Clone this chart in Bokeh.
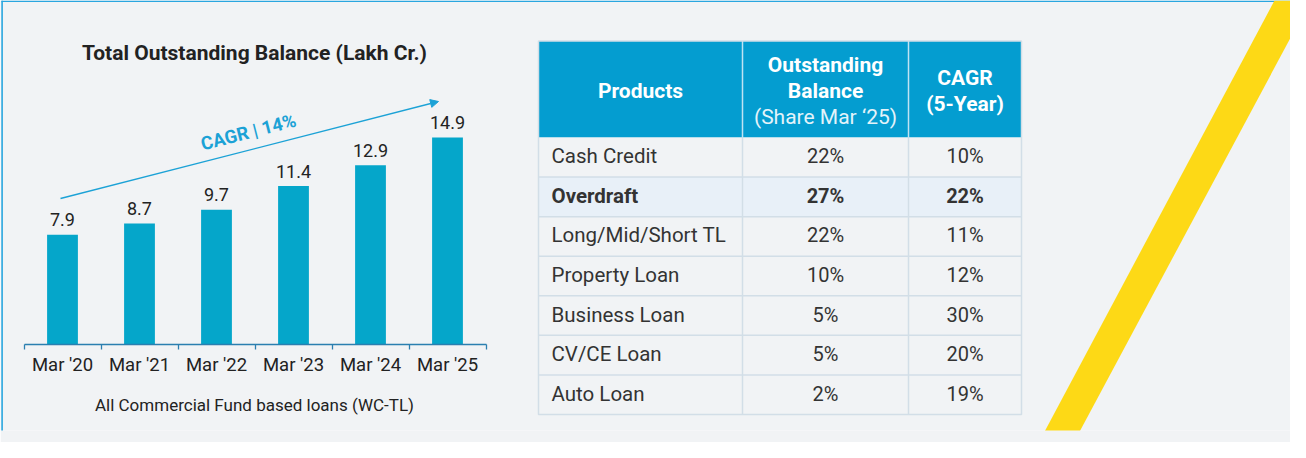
import math
from bokeh.plotting import figure
from bokeh.models import (Range1d, LinearAxis, FixedTicker, ColumnDataSource, LabelSet,
                          Arrow, NormalHead)
from bokeh.core.properties import value
from bokeh.embed import file_html
from bokeh.resources import INLINE

# ---------------- data ----------------
years = ["Mar '20", "Mar '21", "Mar '22", "Mar '23", "Mar '24", "Mar '25"]
balance = [7.9, 8.7, 9.7, 11.4, 12.9, 14.9]
chart_title = "Total Outstanding Balance (Lakh Cr.)"
chart_note = "All Commercial Fund based loans (WC-TL)"
cagr_label = "CAGR | 14%"

products = ["Cash Credit", "Overdraft", "Long/Mid/Short TL", "Property Loan",
            "Business Loan", "CV/CE Loan", "Auto Loan"]
share = ["22%", "27%", "22%", "10%", "5%", "5%", "2%"]
cagr5 = ["10%", "22%", "11%", "12%", "30%", "20%", "19%"]
highlight = "Overdraft"
head_products = ["Products"]
head_balance = ["Outstanding", "Balance", "(Share Mar \u201825)"]
head_cagr = ["CAGR", "(5-Year)"]

# ---------------- style ----------------
BG = "#f1f3f5"
LINE = "#2aa6df"
BAR = "#05a6ca"
HEAD = "#049dd0"
ACCENT = "#1ca2d6"
YELLOW = "#fdd916"
GRID = "#d2dee7"
HL = "#e8f0f8"
TXT = "#222222"
BODY = "#333333"
AXIS = "#2b7fb0"
FONT = value("Roboto")

W, H = 1290, 442
BOTTOM = 12            # small panel holding the x axis
FH = H - BOTTOM        # frame height
BASE = 344             # canvas y of the bar baseline
PXPU = 13.9            # pixels per value unit
CATW = 77.0            # pixels per category
X0, Y0 = 8, 8          # page position of the canvas origin
pad = (31.5 - X0) / CATW

p = figure(width=W, height=H,
           x_range=Range1d(-pad, -pad + W / CATW),
           y_range=Range1d(-(FH - BASE) / PXPU, BASE / PXPU),
           x_axis_location=None, y_axis_location=None,
           toolbar_location=None, output_backend="svg",
           min_border_left=0, min_border_right=0, min_border_top=0, min_border_bottom=BOTTOM)
p.background_fill_color = BG
p.border_fill_color = BG
p.outline_line_color = None
p.grid.visible = False
p.extra_x_ranges = {"px": Range1d(X0, X0 + W)}
p.extra_y_ranges = {"px": Range1d(Y0 + FH, Y0)}
PX = dict(x_range_name="px", y_range_name="px")

# ---------------- bar chart ----------------
n_cat = len(years)
centers = [i + 0.5 for i in range(n_cat)]

axis = LinearAxis(fixed_location=0,
                  ticker=FixedTicker(ticks=list(range(n_cat + 1)), minor_ticks=[]),
                  bounds=(0, n_cat), major_tick_in=0, major_tick_out=5,
                  major_label_text_font_size="0px", major_label_text_color=None,
                  major_label_standoff=0,
                  axis_line_color=AXIS, axis_line_width=1.3,
                  major_tick_line_color=AXIS, major_tick_line_width=1.3,
                  minor_tick_line_color=None)
p.add_layout(axis, "below")

src = ColumnDataSource(dict(x=centers, val=balance, base=[0] * n_cat, cat=years,
                            lab=[f"{v:.1f}" for v in balance]))
p.vbar(x="x", top="val", bottom="base", width=0.4, source=src, fill_color=BAR, line_color=None)
p.add_layout(LabelSet(x="x", y="val", text="lab", source=src, y_offset=15,
                      text_align="center", text_baseline="middle", text_font=FONT,
                      text_font_size="18px", text_color=TXT))
p.add_layout(LabelSet(x="x", y="base", text="cat", source=src, y_offset=-20,
                      text_align="center", text_baseline="middle", text_font=FONT,
                      text_font_size="18.5px", text_color=TXT))

p.text(x=[262], y=[60], text=[chart_title], text_font=FONT, text_font_style="bold",
       text_font_size="21px", text_align="center", text_baseline="middle", text_color=TXT, **PX)
p.text(x=[262], y=[412], text=[chart_note], text_font=FONT, text_font_size="17px",
       text_align="center", text_baseline="middle", text_color=TXT, **PX)

p.add_layout(Arrow(end=NormalHead(size=8, fill_color=ACCENT, line_color=ACCENT),
                   x_start=68, y_start=206, x_end=446, y_end=109,
                   line_color=ACCENT, line_width=1.3, **PX))
ang = math.atan2(206 - 109, 446 - 68)
p.text(x=[256], y=[140], text=[cagr_label], angle=ang, text_font=FONT, text_font_style="bold",
       text_font_size="18.5px", text_align="center", text_baseline="middle",
       text_color=ACCENT, **PX)

# slide frame lines
p.segment(x0=[9], y0=[8.8], x1=[X0 + W], y1=[8.8], line_color=LINE, line_width=1.6, **PX)
p.segment(x0=[9.6], y0=[8], x1=[9.6], y1=[Y0 + H], line_color=LINE, line_width=1.6, **PX)

# ---------------- table ----------------
cols = [546, 750, 916, 1029]
head_top, head_bot, tab_bot = 48.5, 145, 422
n = len(products)
rh = (tab_bot - head_bot) / n
row_top = [head_bot + i * rh for i in range(n)]
row_mid = [t + rh / 2 - 1 for t in row_top]

p.quad(left=[cols[0]], right=[cols[-1]], top=[head_top], bottom=[head_bot],
       fill_color=HEAD, line_color=None, **PX)
p.quad(left=[cols[0]] * n, right=[cols[-1]] * n, top=row_top, bottom=[t + rh for t in row_top],
       fill_color=[HL if pr == highlight else BG for pr in products], line_color=None, **PX)
p.segment(x0=[cols[0]] * (n - 1), x1=[cols[-1]] * (n - 1), y0=row_top[1:], y1=row_top[1:],
          line_color=GRID, line_width=1.5, **PX)
p.segment(x0=cols[1:3], x1=cols[1:3], y0=[head_bot] * 2, y1=[tab_bot] * 2,
          line_color=GRID, line_width=1.5, **PX)
p.segment(x0=cols[1:3], x1=cols[1:3], y0=[head_top] * 2, y1=[head_bot] * 2,
          line_color="#bfe3f3", line_width=1.5, **PX)
p.quad(left=[cols[0]], right=[cols[-1]], top=[head_top], bottom=[tab_bot],
       fill_color=None, line_color=GRID, line_width=1.5, **PX)

cx = [(cols[0] + cols[1]) / 2, (cols[1] + cols[2]) / 2, (cols[2] + cols[3]) / 2]
hmid = (head_top + head_bot) / 2
hdr = ColumnDataSource(dict(
    x=[cx[0]] + [cx[1]] * 3 + [cx[2]] * 2,
    y=[hmid + 2, hmid - 24, hmid + 2, hmid + 28, hmid - 11, hmid + 15],
    t=head_products + head_balance + head_cagr,
    st=["bold", "bold", "bold", "normal", "bold", "bold"],
    col=["white", "white", "white", "#e3f3fa", "white", "white"]))
p.text(x="x", y="y", text="t", source=hdr, text_font=FONT, text_font_style="st",
       text_color="col", text_font_size="21px", text_align="center", text_baseline="middle", **PX)

styles = ["bold" if pr == highlight else "normal" for pr in products]
tsrc = ColumnDataSource(dict(p=products, s=share, c=cagr5, y=row_mid, st=styles,
                             x0=[cols[0] + 13] * n, x1=[cx[1]] * n, x2=[cx[2]] * n))
p.text(x="x0", y="y", text="p", source=tsrc, text_font=FONT, text_font_style="st",
       text_font_size="20.5px", text_align="left", text_baseline="middle", text_color=BODY, **PX)
p.text(x="x1", y="y", text="s", source=tsrc, text_font=FONT, text_font_style="st",
       text_font_size="20px", text_align="center", text_baseline="middle", text_color=BODY, **PX)
p.text(x="x2", y="y", text="c", source=tsrc, text_font=FONT, text_font_style="st",
       text_font_size="20px", text_align="center", text_baseline="middle", text_color=BODY, **PX)

# decorative yellow stripe
p.patch(x=[1282, 1318, 1077, 1042], y=[8, 8, 458, 458], fill_color=YELLOW, line_color=None, **PX)

open("out.html", "w").write(file_html(p, INLINE))
